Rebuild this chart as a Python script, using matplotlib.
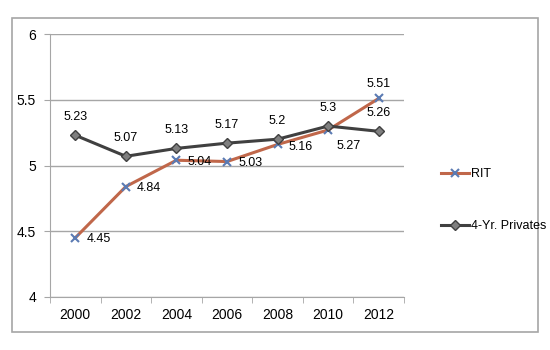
import matplotlib.pyplot as plt
from matplotlib.patches import Rectangle

years = ["2000", "2002", "2004", "2006", "2008", "2010", "2012"]
rit = [4.45, 4.84, 5.04, 5.03, 5.16, 5.27, 5.51]
privates = [5.23, 5.07, 5.13, 5.17, 5.20, 5.30, 5.26]

# label placement for RIT: (dx, dy, ha, va) in points
rit_offsets = [(8, -1, 'left', 'center'), (8, -1, 'left', 'center'), (8, -1, 'left', 'center'),
               (8, -1, 'left', 'center'), (8, -2, 'left', 'center'), (6, -7, 'left', 'top'),
               (0, 6, 'center', 'bottom')]

plt.rcParams['font.family'] = ['Liberation Sans', 'DejaVu Sans']

fig = plt.figure(figsize=(5.5, 3.5), dpi=100)
fig.patches.append(Rectangle((12 / 550, 1 - 332 / 350), 526 / 550, 314 / 350,
                             transform=fig.transFigure, fill=False,
                             edgecolor='#a6a6a6', linewidth=1.2))
ax = fig.add_axes([50 / 550, 1 - 297 / 350, 354 / 550, 263 / 350])

x = list(range(len(years)))
ax.plot(x, rit, color='#c0674a', linewidth=2.2, marker='x', markersize=6,
        markeredgecolor='#5b7bb3', markeredgewidth=1.5, label='RIT', zorder=3)
ax.plot(x, privates, color='#404040', linewidth=2.2, marker='D', markersize=5,
        markerfacecolor='#7f7f7f', markeredgecolor='#404040', label='4-Yr. Privates', zorder=3)

for i, v in enumerate(rit):
    dx, dy, ha, va = rit_offsets[i]
    ax.annotate(f"{v:g}", (x[i], v), xytext=(dx, dy), textcoords='offset points',
                ha=ha, va=va, fontsize=9)
for i, v in enumerate(privates):
    ax.annotate(f"{v:g}", (x[i], v), xytext=(0, 9), textcoords='offset points',
                ha='center', va='bottom', fontsize=9)

ax.set_xlim(-0.5, len(years) - 0.5)
ax.set_ylim(4, 6)
ax.set_yticks([4, 4.5, 5, 5.5, 6])
ax.set_yticklabels(['4', '4.5', '5', '5.5', '6'], fontsize=10)
ax.set_xticks(x)
ax.set_xticklabels(years, fontsize=10)
ax.set_xticks([i - 0.5 for i in range(len(years) + 1)], minor=True)
ax.tick_params(axis='x', which='major', length=0, pad=8)
ax.tick_params(axis='x', which='minor', length=4, color='#a6a6a6')
ax.tick_params(axis='y', length=4, color='#a6a6a6', pad=6)
ax.grid(axis='y', color='#a6a6a6', linewidth=1)
for s in ['top', 'right']:
    ax.spines[s].set_visible(False)
for s in ['left', 'bottom']:
    ax.spines[s].set_color('#a6a6a6')

h, l = ax.get_legend_handles_labels()
fig.legend(h, l, loc='center left', bbox_to_anchor=(430 / 550, 1 - 200 / 350),
           frameon=False, fontsize=9, handlelength=2.2, handletextpad=0.2,
           labelspacing=3.2)

fig.savefig('out.png')
